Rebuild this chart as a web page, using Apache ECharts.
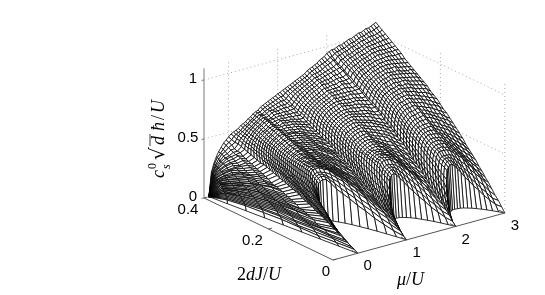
<!DOCTYPE html>
<html><head><meta charset="utf-8">
<script src="https://cdn.jsdelivr.net/npm/echarts@6/dist/echarts.min.js"></script>
<style>html,body{margin:0;background:#fff}#c{width:545px;height:295px}</style></head>
<body><div id="c"></div>
<script>
const muValues=[-0.4,-0.35,-0.3,-0.25,-0.2,-0.15,-0.1,-0.05,0,0.05,0.1,0.15,0.2,0.25,0.3,0.35,0.4,0.45,0.5,0.55,0.6,0.65,0.7,0.75,0.8,0.85,0.9,0.95,1,1.05,1.1,1.15,1.2,1.25,1.3,1.35,1.4,1.45,1.5,1.55,1.6,1.65,1.7,1.75,1.8,1.85,1.9,1.95,2,2.05,2.1,2.15,2.2,2.25,2.3,2.35,2.4,2.45,2.5,2.55,2.6,2.65,2.7,2.75,2.8,2.85,2.9,2.95,3];
const lobeEdge=[0.4,0.35,0.3,0.25,0.2,0.15,0.1,0.05,0,0.045,0.082,0.111,0.133,0.15,0.162,0.169,0.171,0.171,0.167,0.16,0.15,0.138,0.124,0.107,0.089,0.069,0.047,0.024,0,0.023,0.043,0.059,0.073,0.083,0.091,0.097,0.1,0.101,0.1,0.097,0.092,0.086,0.078,0.068,0.057,0.045,0.031,0.016,0,0.016,0.029,0.04,0.05,0.058,0.064,0.068,0.071,0.072,0.071,0.07,0.067,0.062,0.057,0.05,0.042,0.033,0.023,0.012,0];
const meshLevels=[0,0.025,0.05,0.075,0.1,0.125,0.15,0.175,0.2,0.225,0.25,0.275,0.3,0.325,0.35,0.375,0.4,0.425,0.45,0.475,0.5,0.525,0.55,0.575,0.6,0.625,0.65,0.675,0.7,0.725,0.75,0.775,0.8,0.825,0.85,0.875,0.9,0.925,0.95,0.975,1];
const heightColumns=[
[0,0,0,0,0,0,0,0,0,0,0,0,0,0,0,0,0,0,0,0,0,0,0,0,0,0,0,0,0,0,0,0,0,0,0,0,0,0,0,0,0],
[0,3,4,5,6,7,8,8,9,9,10,10,11,11,12,12,13,13,13,14,14,14,15,15,15,16,16,16,17,17,17,18,18,18,18,19,19,19,19,20,20],
[0,4,5,6,7,8,9,10,10,11,12,13,13,14,14,15,16,16,17,17,18,18,19,19,20,20,21,21,22,22,23,23,24,24,25,25,25,26,26,27,27],
[0,4,6,7,8,9,10,11,12,13,13,14,15,16,17,17,18,19,19,20,20,21,22,22,23,24,24,25,26,26,26,27,28,28,29,29,30,30,31,32,32],
[0,4,6,7,9,10,11,12,13,14,14,15,16,17,18,18,19,20,21,22,22,23,24,25,25,26,27,27,28,29,29,30,31,31,32,33,33,34,35,35,36],
[0,3,4,6,7,9,10,11,12,13,14,15,16,16,17,18,19,20,21,22,23,23,24,25,26,27,27,28,29,30,31,31,32,33,34,35,35,36,37,38,39],
[0,2,4,6,7,8,9,10,11,12,14,14,15,16,17,18,19,20,21,22,24,24,25,26,27,28,29,30,31,32,33,34,35,36,37,37,38,39,40,41,42],
[0,2,4,5,6,8,8,9,10,12,13,14,15,16,16,18,19,20,21,22,23,24,25,25,26,28,29,30,31,32,33,34,35,36,37,39,39,40,42,43,44],
[0,2,3,5,6,8,9,11,12,14,15,17,18,19,21,22,23,24,26,27,28,29,30,31,32,33,34,35,36,37,37,38,39,40,41,42,43,44,44,45,46],
[0,5,7,10,12,14,16,17,18,19,21,22,23,24,25,27,28,29,30,31,32,33,34,35,35,36,37,38,38,39,40,41,42,43,43,44,45,46,46,47,48],
[0,8,13,16,19,21,22,23,24,25,25,26,27,28,29,30,31,32,33,33,34,35,36,36,37,38,39,39,40,41,42,42,43,44,45,45,46,47,48,48,49],
[0,11,16,20,23,25,26,27,28,28,29,30,31,31,32,33,34,34,35,36,37,37,38,38,39,40,41,41,42,43,43,44,45,45,46,47,48,48,49,49,50],
[0,13,20,24,27,29,30,30,31,32,32,33,33,34,34,35,36,36,37,38,38,39,40,40,41,42,42,43,44,44,45,45,46,47,47,48,49,49,50,50,51],
[0,20,26,29,31,33,33,34,35,35,35,36,36,37,37,38,38,39,39,40,40,41,42,42,43,44,44,45,45,46,47,47,48,48,49,49,50,51,51,52,53],
[0,27,31,33,34,36,37,37,37,38,38,38,39,39,39,40,40,40,41,41,42,42,43,44,45,45,46,46,47,47,48,49,49,50,51,51,52,52,53,53,54],
[0,32,34,35,36,38,39,39,39,40,40,40,40,41,41,41,41,42,42,43,43,44,44,45,46,46,47,47,48,49,49,50,51,51,52,52,53,53,54,54,55],
[0,33,35,36,37,40,40,41,41,41,41,42,42,42,42,43,43,43,44,44,45,45,46,47,47,48,49,49,50,50,51,52,52,53,54,54,55,55,56,56,57],
[0,34,36,37,38,40,41,41,42,42,42,42,43,43,43,44,44,44,45,45,46,46,47,48,48,49,50,50,51,51,52,53,53,54,55,55,56,56,57,57,58],
[0,34,36,37,38,41,41,42,42,43,43,44,44,44,45,45,46,46,47,47,48,48,49,50,50,51,52,52,53,54,54,55,55,56,57,57,58,58,59,59,60],
[0,31,34,36,38,40,41,41,42,43,43,44,44,45,45,46,47,47,48,49,49,50,51,51,52,53,53,54,55,55,56,56,57,58,58,59,59,60,60,61,61],
[0,27,31,34,37,40,40,41,41,41,42,43,43,44,45,45,46,47,47,48,48,49,50,50,51,52,52,53,54,54,55,56,56,57,58,58,59,60,60,61,62],
[0,24,28,32,35,37,38,39,40,40,41,41,42,42,43,44,45,45,46,47,48,49,49,50,51,52,53,53,54,55,56,56,57,58,59,59,60,61,62,63,64],
[0,21,25,29,33,35,36,37,38,39,40,40,41,42,43,44,45,46,47,47,48,49,50,51,52,53,54,54,55,56,57,58,59,59,60,61,62,63,63,64,65],
[0,17,22,26,29,32,34,35,36,37,38,39,40,41,42,43,44,45,46,47,48,49,50,51,52,53,54,54,55,56,57,58,59,60,61,62,63,63,64,65,66],
[0,14,18,22,26,29,30,32,33,35,36,37,38,39,41,42,43,44,45,47,48,49,50,51,52,53,54,55,56,57,58,59,59,60,61,62,63,64,65,66,67],
[0,10,15,19,23,25,27,29,30,32,33,35,36,37,39,40,42,43,44,46,47,48,49,50,51,52,53,54,56,57,58,59,60,61,62,63,64,65,66,67,68],
[0,7,11,15,18,21,23,25,26,28,30,32,34,35,37,39,40,42,43,45,46,47,48,50,51,52,53,54,55,57,58,59,60,61,62,63,65,66,67,68,69],
[0,4,8,12,15,17,19,21,23,25,27,29,31,33,35,37,38,40,41,43,45,46,47,49,50,52,53,54,55,57,58,59,60,62,63,64,65,66,68,69,70],
[0,2,5,7,10,12,15,17,19,21,23,26,28,30,32,34,36,38,40,41,43,45,46,48,50,51,52,54,55,56,58,59,61,62,63,65,66,67,68,70,71],
[0,6,10,13,15,17,20,22,24,26,28,30,32,34,36,38,39,41,43,44,46,47,48,50,51,53,54,55,56,58,59,60,62,63,64,65,66,68,69,70,72],
[0,10,14,17,20,23,25,27,28,30,32,33,35,37,39,40,42,43,45,46,48,49,50,52,54,55,56,57,58,60,61,62,63,64,66,67,68,69,71,72,73],
[0,14,19,22,25,28,30,31,32,34,36,37,38,40,41,43,44,46,47,49,50,51,53,54,55,56,58,59,60,61,62,64,65,66,67,68,69,71,72,73,74],
[0,20,25,28,30,33,34,36,37,38,39,40,41,43,44,45,46,48,49,50,52,53,54,56,57,58,59,60,62,63,64,65,66,67,68,69,71,72,73,74,75],
[0,27,31,33,34,37,38,39,40,41,42,43,44,44,45,47,48,49,51,52,53,54,56,57,58,59,60,61,63,64,65,66,67,68,69,71,72,73,74,75,76],
[0,33,35,36,37,40,41,42,43,44,44,45,46,46,47,48,50,51,52,53,55,56,57,58,59,60,61,63,64,65,66,67,68,69,70,71,73,74,75,76,77],
[0,35,37,38,39,42,43,43,44,44,45,45,46,47,48,49,51,52,53,55,56,57,58,59,60,61,62,64,65,66,67,68,69,70,72,73,74,75,76,77,78],
[0,36,38,39,40,43,44,44,45,45,46,46,47,48,49,50,51,53,54,55,57,58,59,60,61,62,63,65,66,67,68,69,70,71,73,74,75,76,77,78,79],
[0,37,39,40,41,44,45,45,46,46,47,47,48,49,50,51,52,54,55,56,58,59,60,61,62,63,64,66,67,68,69,70,71,72,74,75,76,77,78,79,80],
[0,35,38,40,41,44,45,46,46,47,47,48,49,50,51,52,53,55,56,57,59,60,61,62,63,64,65,67,68,69,70,71,72,73,75,76,77,78,79,80,81],
[0,32,36,39,41,44,45,46,46,47,48,49,50,51,52,53,54,56,57,58,60,61,62,63,64,65,66,68,69,70,71,72,73,75,76,77,78,79,80,81,82],
[0,29,33,37,40,42,44,45,45,46,47,49,50,51,52,54,55,56,58,59,60,62,63,64,65,66,68,69,70,72,73,74,75,76,78,79,80,81,82,83,84],
[0,25,30,34,38,41,43,44,45,46,47,48,48,50,51,52,54,55,57,59,60,61,63,64,65,66,68,69,70,71,73,74,75,76,78,79,80,81,83,84,85],
[0,22,27,31,35,38,40,41,42,44,45,46,48,49,50,52,53,55,57,58,60,61,63,64,65,67,68,69,71,72,73,75,76,77,78,80,81,82,83,85,86],
[0,18,23,28,32,36,37,39,40,42,43,45,46,48,49,51,53,55,56,58,60,61,63,64,65,67,68,69,71,72,74,75,76,78,79,80,82,83,84,86,87],
[0,15,20,25,29,32,34,35,37,39,41,43,45,46,48,50,53,54,56,58,60,61,63,64,66,67,69,70,71,73,74,76,77,78,80,81,83,84,85,87,88],
[0,11,16,21,25,29,31,33,35,37,39,42,44,46,48,50,52,54,56,58,59,61,63,65,66,68,69,71,72,74,75,77,79,80,81,83,84,85,87,88,90],
[0,8,13,17,22,25,26,29,31,34,36,39,41,44,46,48,50,53,55,57,59,60,62,64,66,68,69,71,72,74,75,77,79,80,82,83,85,86,88,89,91],
[0,5,9,13,17,20,23,26,29,31,34,37,39,42,44,47,49,51,54,56,58,60,62,64,65,67,69,71,72,74,76,77,79,81,82,84,86,87,89,90,92],
[0,3,7,10,13,16,19,22,25,28,31,34,37,39,42,45,48,50,52,55,57,59,61,64,66,68,69,71,73,75,77,78,80,82,84,86,87,89,91,92,94],
[0,7,11,14,18,21,24,27,29,32,35,38,40,43,45,48,50,52,54,56,59,61,63,65,66,68,70,71,73,75,77,78,80,82,83,85,87,88,90,92,95],
[0,11,16,19,23,26,28,30,33,35,38,40,43,46,48,50,53,55,57,59,61,63,65,67,69,71,72,74,76,78,79,81,83,85,86,88,89,91,93,94,96],
[0,16,21,24,27,30,33,35,37,39,41,43,45,48,50,52,55,57,59,61,63,65,66,68,70,72,73,75,77,78,80,82,83,85,87,88,90,91,93,95,96],
[0,22,26,28,31,35,37,39,41,43,45,47,49,51,52,55,57,59,61,63,65,66,68,70,72,73,75,76,78,80,81,83,85,86,88,89,91,92,94,95,97],
[0,28,30,32,34,38,39,41,43,45,47,49,50,52,54,56,58,60,62,64,66,68,69,71,73,74,76,77,79,81,82,84,86,87,88,90,92,93,95,96,98],
[0,34,36,37,38,41,42,44,45,47,49,50,52,54,55,57,59,61,63,65,67,69,70,72,74,75,76,78,80,81,83,84,86,87,89,91,92,93,95,96,98],
[0,36,38,39,40,43,44,45,47,48,50,52,53,55,56,58,60,62,64,66,68,70,71,73,74,76,78,79,81,82,84,85,87,88,90,91,93,94,96,97,99],
[0,37,39,40,41,44,45,46,48,49,51,53,54,56,57,59,61,63,65,67,69,71,72,74,75,77,79,80,82,83,85,86,88,89,91,92,94,95,97,98,100],
[0,37,39,40,41,44,45,47,48,50,52,53,55,56,58,60,62,64,66,68,69,71,73,74,76,77,79,81,82,84,85,87,88,90,91,93,94,96,97,99,101],
[0,35,38,40,41,44,46,47,49,50,52,54,55,57,59,60,62,64,66,68,70,72,73,75,76,78,80,81,83,84,86,87,89,90,92,93,95,96,98,99,101],
[0,32,36,39,41,44,45,47,49,50,52,54,56,57,59,61,63,65,67,69,71,72,74,76,77,79,81,82,84,85,87,88,90,91,93,94,96,97,99,100,102],
[0,29,33,37,40,43,45,47,48,50,52,54,56,58,60,62,64,66,67,69,71,73,75,76,78,79,81,83,84,86,87,89,90,92,94,95,97,98,100,101,103],
[0,25,30,34,38,41,43,45,47,49,51,52,54,56,58,60,62,64,66,68,70,72,74,76,77,79,81,83,84,86,88,89,91,93,94,96,97,99,100,102,104],
[0,22,27,31,35,39,41,43,45,47,49,51,53,55,57,60,62,64,66,68,70,72,74,76,78,80,81,83,84,86,88,90,91,93,95,96,98,99,101,102,104],
[0,18,23,28,33,37,39,41,43,45,48,50,52,54,57,59,61,63,65,68,70,72,74,76,78,80,81,83,85,87,88,90,92,93,95,97,98,100,102,103,105],
[0,15,20,25,29,33,36,38,40,43,45,48,50,53,55,58,60,62,65,67,69,71,73,75,77,79,81,83,84,86,88,90,92,94,95,97,99,100,102,104,106],
[0,11,16,21,26,30,32,35,37,40,43,46,49,52,54,57,59,61,64,66,69,71,73,75,77,79,81,83,84,86,88,90,92,94,95,97,99,101,102,104,106],
[0,8,13,18,23,26,28,32,35,38,41,44,47,50,53,55,58,61,63,66,68,70,73,75,77,79,81,83,84,86,88,90,92,94,96,98,100,102,103,105,107],
[0,5,9,14,19,22,26,29,32,36,39,42,45,48,51,54,57,59,62,65,67,70,72,75,77,79,81,83,85,86,88,90,93,95,96,98,100,102,104,106,108],
[0,4,8,11,15,19,22,26,29,33,36,39,42,46,49,52,55,58,61,63,66,69,71,73,76,78,80,82,84,86,88,90,93,95,97,99,101,103,105,107,109]
];
const muTicks=[0,1,2,3], jTicks=[0,0.2,0.4], zTicks=[0,0.5,1];
const muRange=[-0.5,3], jRange=[0,0.4], zRange=[0,1.1];

// 3-D view: where the box corner sits and how each data axis runs across the picture
const corner=[204,198], muVec=[49.1,-13.43], jVec=[129,62], zVec=[0,-118];
function project(mu,j,z){
  const m=mu-muRange[0], f=(jRange[1]-j)/jRange[1];
  return [corner[0]+m*muVec[0]+f*jVec[0], corner[1]+m*muVec[1]+f*jVec[1]+z*zVec[1]];
}
function node(c,r){
  const e=lobeEdge[c], j=e+(jRange[1]-e)*meshLevels[r];
  return project(muValues[c],j,heightColumns[c][r]/100);
}
const cells=[];
for(let c=muValues.length-2;c>=0;c--) for(let r=meshLevels.length-2;r>=0;r--) cells.push([c,r]);

const gridSegs=[];
for(const z of zTicks.slice(1)){
  gridSegs.push([[muRange[0],0.4,z],[3,0.4,z]]);
  gridSegs.push([[3,0.4,z],[3,0,z]]);
}
for(const m of muTicks) gridSegs.push([[m,0.4,0],[m,0.4,zRange[1]]]);
for(const j of [0,0.2]) gridSegs.push([[3,j,0],[3,j,zRange[1]]]);
gridSegs.push([[3,0.4,0],[3,0.4,zRange[1]]]);

const axisSegs=[
  [[muRange[0],0,0],[3,0,0]],
  [[muRange[0],0,0],[muRange[0],0.4,0]]
];
for(const m of muTicks) axisSegs.push([[m,0,0],[m,0.018,0]]);
for(const j of jTicks) axisSegs.push([[muRange[0],j,0],[muRange[0]+0.07,j,0]]);
const zAxisSegs=[[[muRange[0],0.4,0],[muRange[0],0.4,zRange[1]]]];
for(const z of zTicks) zAxisSegs.push([[muRange[0],0.4,z],[muRange[0]-0.05,0.4,z]]);

const tickFont='15px "Liberation Sans"';
const labels=[];
for(const m of muTicks) labels.push({t:String(m),p:project(m,0,0),dx:10,dy:13});
for(const j of jTicks) labels.push({t:String(j),p:project(muRange[0],j,0),dx:j===0?-7:-16,dy:j===0?12:12});
for(const z of zTicks) labels.push({t:String(z),p:project(muRange[0],0.4,z),dx:z===0.5?-16:-11,dy:-1});

function segSeries(segs,style,z){
  return {type:'custom',coordinateSystem:'cartesian2d',silent:true,z,clip:false,progressive:0,animation:false,
    data:segs.map((s,i)=>[i]),
    renderItem(p,api){
      const s=segs[p.dataIndex];
      const a=api.coord(project(...s[0])), b=api.coord(project(...s[1]));
      return {type:'line',shape:{x1:a[0],y1:a[1],x2:b[0],y2:b[1]},style};
    }};
}
const mathFont='18px "Liberation Serif"', mathItalic='italic 18px "Liberation Serif"';
const chart=echarts.init(document.getElementById('c'),null,{renderer:'canvas'});
chart.setOption({
  animation:false,backgroundColor:'#fff',
  grid:{left:0,top:0,width:545,height:295},
  xAxis:{type:'value',min:0,max:545,show:false},
  yAxis:{type:'value',min:0,max:295,inverse:true,show:false},
  series:[
    segSeries(gridSegs,{stroke:'#a8a8a8',lineWidth:1,lineDash:[1,3]},1),
    segSeries(zAxisSegs,{stroke:'#999',lineWidth:1.3},2),
    {type:'custom',coordinateSystem:'cartesian2d',silent:true,z:3,clip:false,progressive:0,animation:false,
      data:cells,
      renderItem(p,api){
        const c=api.value(0), r=api.value(1);
        const pts=[node(c,r),node(c+1,r),node(c+1,r+1),node(c,r+1)].map(q=>api.coord(q));
        return {type:'polygon',shape:{points:pts},style:{fill:'#fff',stroke:'#000',lineWidth:0.8}};
      }},
    segSeries(axisSegs,{stroke:'#555',lineWidth:1},4),
    {type:'custom',coordinateSystem:'cartesian2d',silent:true,z:5,clip:false,progressive:0,animation:false,
      data:labels.map((l,i)=>[i]),
      renderItem(p,api){
        const l=labels[p.dataIndex], a=api.coord(l.p);
        return {type:'text',style:{text:l.t,x:a[0]+l.dx,y:a[1]+l.dy,font:tickFont,fill:'#000',align:'center',verticalAlign:'middle'}};
      }}
  ],
  graphic:[
    {type:'text',left:237,top:266,style:{rich:{a:{font:mathFont},i:{font:mathItalic}},text:'{a|2}{i|dJ}{a|/}{i|U}'}},
    {type:'text',left:397,top:271,style:{rich:{a:{font:mathFont},i:{font:mathItalic}},text:'{i|μ}{a|/}{i|U}'}},
    {type:'group',x:168,y:178,rotation:Math.PI/2,children:[
      {type:'text',style:{text:'c',x:0,y:0,font:mathItalic,fill:'#000',verticalAlign:'bottom'}},
      {type:'text',style:{text:'0',x:9,y:-9,font:'12px "Liberation Serif"',fill:'#000',verticalAlign:'bottom'}},
      {type:'text',style:{text:'s',x:9,y:5,font:'italic 12px "Liberation Serif"',fill:'#000',verticalAlign:'bottom'}},
      {type:'text',style:{text:'√',x:18,y:1,font:'20px "DejaVu Sans"',fill:'#000',verticalAlign:'bottom'}},
      {type:'line',shape:{x1:32,y1:-18,x2:44,y2:-18},style:{stroke:'#000',lineWidth:0.8}},
      {type:'text',style:{text:'d',x:33,y:0,font:mathItalic,fill:'#000',verticalAlign:'bottom'}},
      {type:'text',style:{text:'ħ',x:47,y:0,font:mathItalic,fill:'#000',verticalAlign:'bottom'}},
      {type:'text',style:{text:'/',x:58,y:0,font:mathFont,fill:'#000',verticalAlign:'bottom'}},
      {type:'text',style:{text:'U',x:65,y:0,font:mathItalic,fill:'#000',verticalAlign:'bottom'}}
    ]}
  ]
});
</script></body></html>
